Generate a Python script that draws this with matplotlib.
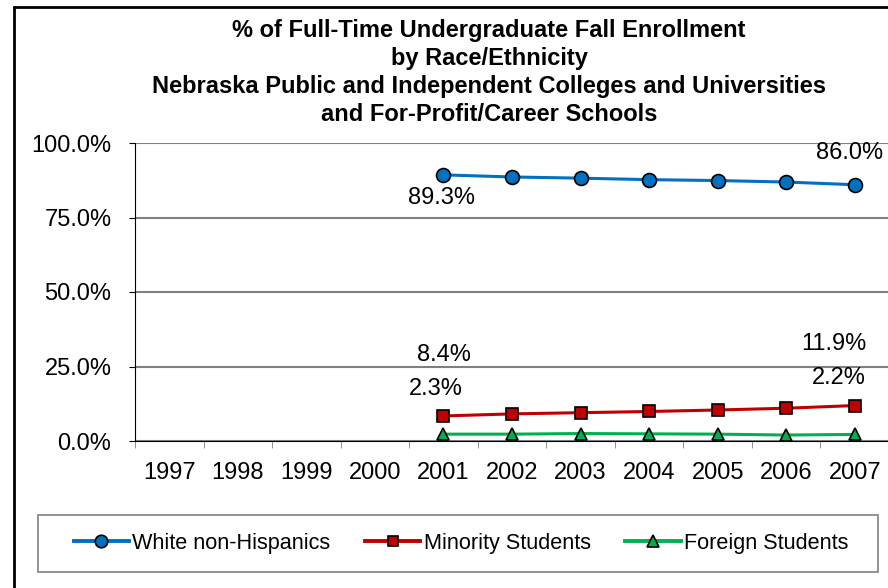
import numpy as np
import matplotlib.pyplot as plt
from matplotlib.patches import Rectangle
from matplotlib.ticker import FuncFormatter, FixedLocator

plt.rcParams['font.family'] = ['Liberation Sans', 'DejaVu Sans']

years = ["1997", "1998", "1999", "2000", "2001", "2002", "2003", "2004", "2005", "2006", "2007"]
white = [np.nan, np.nan, np.nan, np.nan, 89.3, 88.6, 88.2, 87.7, 87.4, 86.9, 86.0]
minority = [np.nan, np.nan, np.nan, np.nan, 8.4, 9.1, 9.5, 9.9, 10.4, 11.0, 11.9]
foreign = [np.nan, np.nan, np.nan, np.nan, 2.3, 2.3, 2.5, 2.4, 2.3, 2.0, 2.2]

title_lines = ["% of Full-Time Undergraduate Fall Enrollment",
               "by Race/Ethnicity",
               "Nebraska Public and Independent Colleges and Universities",
               "and For-Profit/Career Schools"]

W, H = 888, 588
fig = plt.figure(figsize=(W / 100, H / 100), dpi=100)
ax = fig.add_axes([135 / W, (H - 441) / H, (889 - 135) / W, (441 - 143) / H])

x = np.arange(len(years))
ax.plot(x, white, '-o', color='#0070C0', lw=2.2, ms=10, mfc='#0070C0', mec='black', mew=1.2,
        label='White non-Hispanics', zorder=4)
ax.plot(x, minority, '-s', color='#C00000', lw=2.2, ms=8, mfc='#C00000', mec='black', mew=1.2,
        label='Minority Students', zorder=4)
ax.plot(x, foreign, '-^', color='#00B050', lw=2.2, ms=9, mfc='#00B050', mec='black', mew=1.2,
        label='Foreign Students', zorder=4)

# data labels (first and last points), offsets in pixels
lab_fs = 17
def lab(i, series, dx, dy):
    ax.annotate(f"{series[i]:.1f}%", (x[i], series[i]), xytext=(dx, dy),
                textcoords='offset pixels', ha='center', va='center', fontsize=lab_fs)

lab(4, white, -2, -23)
lab(10, white, -5, 32)
lab(4, minority, 0, 61)
lab(10, minority, -21, 62)
lab(4, foreign, -8, 45)
lab(10, foreign, -16, 56)

ax.set_xlim(-0.5, len(years) - 0.5)
ax.set_ylim(0, 100)
ax.set_yticks([0, 25, 50, 75, 100])
ax.yaxis.set_major_formatter(FuncFormatter(lambda v, p: f"{v:.1f}%"))
ax.set_xticks(x)
ax.set_xticklabels(years)
ax.xaxis.set_minor_locator(FixedLocator(np.arange(-0.5, len(years), 1.0)))
ax.tick_params(axis='x', which='major', length=0, pad=15, labelsize=17)
ax.tick_params(axis='x', which='minor', length=5, color='#808080', direction='out')
ax.tick_params(axis='y', length=4, pad=13, labelsize=17, color='black', direction='out')

ax.grid(axis='y', color='#808080', lw=1.5)
ax.set_axisbelow(True)
for s in ['top', 'right']:
    ax.spines[s].set_visible(False)
ax.spines['left'].set_color('black')
ax.spines['bottom'].set_color('black')
ax.spines['bottom'].set_zorder(3)

# title lines
for yy, t in zip([30, 58, 87, 115], title_lines):
    fig.text(489 / W, 1 - yy / H, t, ha='center', va='center', fontsize=17, fontweight='bold')

# legend with its own frame
fig.patches.append(Rectangle((38 / W, (H - 572) / H), (878 - 38) / W, (572 - 515) / H,
                             transform=fig.transFigure, fill=False, edgecolor='#808080', lw=1.2))
leg = fig.legend(loc='center', bbox_to_anchor=(461 / W, 1 - 543 / H), ncol=3, frameon=False,
                 fontsize=15.6, handlelength=2.55, handletextpad=0.15, columnspacing=1.6,
                 markerscale=0.9)
for h in leg.legend_handles:
    h.set_linewidth(2.8)

# outer chart border (cropped at right and bottom)
fig.patches.append(Rectangle((14 / W, -0.1), 1.2, 1 - 7 / H + 0.1,
                             transform=fig.transFigure, fill=False, edgecolor='black', lw=2))

fig.savefig('out.png', dpi=100)
